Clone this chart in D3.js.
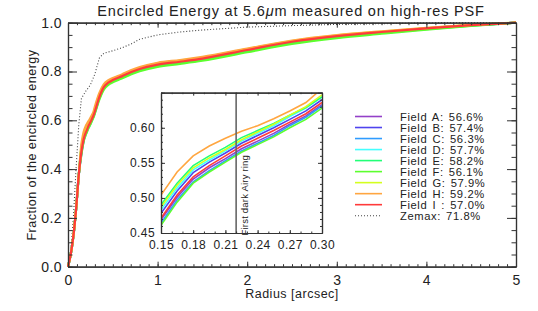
<!DOCTYPE html>
<html>
<head>
<meta charset="utf-8">
<script src="https://cdn.jsdelivr.net/npm/d3@7"></script>
<style>
body { margin: 0; background: #fff; }
text { font-family: "Liberation Sans", Arial, sans-serif; fill: #222; }
</style>
</head>
<body>
<script>
// ---------------------
// Data
// ---------------------

var fieldNames = ["Field A", "Field B", "Field C", "Field D", "Field E", "Field F", "Field G", "Field H", "Field I "];
var fieldEE = ["56.6%", "57.4%", "56.3%", "57.7%", "58.2%", "56.1%", "57.9%", "59.2%", "57.0%"];
var fieldColors = ["#9440c8", "#4f44ee", "#2f9cff", "#44ffff", "#22ff77", "#5cff2e", "#d4ff1e", "#ffa640", "#ff3a3a"];

// radius grid near the core, inside the inset, and for the halo
var coreR  = [0, 0.03, 0.06, 0.09, 0.12];
var coreEE = [0, 0.05, 0.125, 0.235, 0.375];
var insetR = [0.15, 0.165, 0.18, 0.195, 0.21, 0.225, 0.24, 0.255, 0.27, 0.285, 0.30];
var tailR  = [0.35, 0.40, 0.45, 0.50, 0.60, 0.70, 0.80, 1.0, 1.25, 1.5, 2.0, 2.5, 3.0, 3.5, 4.0, 4.5, 5.0];

var eeA = [0.469, 0.501, 0.527, 0.543, 0.556, 0.570, 0.581, 0.592, 0.605, 0.617, 0.633];
var eeB = [0.478, 0.510, 0.536, 0.551, 0.564, 0.578, 0.589, 0.600, 0.612, 0.624, 0.640];
var eeC = [0.464, 0.497, 0.523, 0.539, 0.553, 0.567, 0.578, 0.589, 0.603, 0.615, 0.631];
var eeD = [0.483, 0.514, 0.540, 0.554, 0.567, 0.581, 0.592, 0.603, 0.616, 0.628, 0.644];
var eeE = [0.490, 0.521, 0.546, 0.560, 0.572, 0.586, 0.596, 0.606, 0.618, 0.629, 0.644];
var eeF = [0.461, 0.494, 0.521, 0.537, 0.551, 0.565, 0.576, 0.587, 0.600, 0.612, 0.628];
var eeG = [0.487, 0.518, 0.543, 0.557, 0.569, 0.583, 0.594, 0.605, 0.618, 0.630, 0.647];
var eeH = [0.504, 0.537, 0.560, 0.574, 0.585, 0.595, 0.603, 0.613, 0.624, 0.636, 0.656];
var eeI = [0.471, 0.504, 0.530, 0.546, 0.560, 0.574, 0.585, 0.596, 0.608, 0.620, 0.636];

var tailA = [0.692, 0.733, 0.752, 0.763, 0.778, 0.795, 0.808, 0.826, 0.838, 0.851, 0.886, 0.920, 0.944, 0.961, 0.976, 0.990, 1.0];
var tailB = [0.700, 0.739, 0.756, 0.766, 0.781, 0.798, 0.811, 0.829, 0.841, 0.854, 0.889, 0.922, 0.945, 0.962, 0.977, 0.990, 1.0];
var tailC = [0.690, 0.731, 0.750, 0.761, 0.776, 0.793, 0.806, 0.824, 0.836, 0.849, 0.884, 0.918, 0.942, 0.960, 0.975, 0.989, 1.0];
var tailD = [0.702, 0.740, 0.757, 0.767, 0.782, 0.799, 0.812, 0.830, 0.842, 0.855, 0.889, 0.922, 0.945, 0.962, 0.977, 0.990, 1.0];
var tailE = [0.702, 0.736, 0.751, 0.760, 0.774, 0.791, 0.804, 0.822, 0.834, 0.847, 0.882, 0.916, 0.940, 0.958, 0.974, 0.988, 1.0];
var tailF = [0.685, 0.726, 0.745, 0.756, 0.771, 0.788, 0.801, 0.819, 0.831, 0.844, 0.879, 0.913, 0.937, 0.955, 0.972, 0.987, 1.0];
var tailG = [0.705, 0.743, 0.760, 0.770, 0.785, 0.802, 0.815, 0.833, 0.845, 0.857, 0.892, 0.925, 0.948, 0.964, 0.978, 0.991, 1.0];
var tailH = [0.712, 0.748, 0.764, 0.773, 0.788, 0.805, 0.818, 0.836, 0.847, 0.860, 0.894, 0.927, 0.949, 0.965, 0.979, 0.991, 1.0];
var tailI = [0.695, 0.736, 0.754, 0.765, 0.780, 0.797, 0.810, 0.828, 0.840, 0.853, 0.888, 0.922, 0.945, 0.962, 0.977, 0.990, 1.0];

var zemaxR  = [0, 0.03, 0.06, 0.09, 0.12, 0.15, 0.20, 0.25, 0.30, 0.35, 0.40, 0.50, 0.60, 0.70, 0.80, 1.0, 1.25, 1.5, 2.0, 2.5, 3.0, 3.5, 4.0, 5.0];
var zemaxEE = [0, 0.06, 0.20, 0.40, 0.58, 0.69, 0.72, 0.745, 0.79, 0.855, 0.875, 0.885, 0.897, 0.912, 0.932, 0.950, 0.962, 0.970, 0.982, 0.988, 0.993, 0.996, 0.999, 1.0];

var xTicks = [0, 1, 2, 3, 4, 5];
var yTicks = [0, 0.2, 0.4, 0.6, 0.8, 1.0];
var insetXTicks = [0.15, 0.18, 0.21, 0.24, 0.27, 0.30];
var insetYTicks = [0.45, 0.50, 0.55, 0.60, 0.65];
var airyRing = 0.22;

var insetSets = [eeA, eeB, eeC, eeD, eeE, eeF, eeG, eeH, eeI];
var tailSets  = [tailA, tailB, tailC, tailD, tailE, tailF, tailG, tailH, tailI];

// ---------------------
// Drawing
// ---------------------

var w = 538, h = 311;
var svg = d3.select("body").append("svg").attr("width", w).attr("height", h);

var x = d3.scaleLinear().domain([0, 5]).range([68, 516]);
var y = d3.scaleLinear().domain([0, 1]).range([266.7, 22.7]);

var axisColor = "#333";

function frame(g, xs, ys, xMajor, xMinor, yMajor, yMinor, xLen, yLen, fs, xpad, xfmt, yfmt) {
  var x0 = xs.range()[0], x1 = xs.range()[1], y0 = ys.range()[0], y1 = ys.range()[1];
  // bottom
  g.append("g").attr("transform", "translate(0," + y0 + ")")
    .call(d3.axisBottom(xs).tickValues(xMajor).tickSizeInner(-xLen).tickSizeOuter(0).tickPadding(xpad).tickFormat(xfmt))
    .call(styleAxis, fs);
  g.append("g").attr("transform", "translate(0," + y0 + ")")
    .call(d3.axisBottom(xs).tickValues(xMinor).tickSizeInner(-xLen / 2).tickSizeOuter(0).tickFormat(""))
    .call(styleAxis, fs);
  // top
  g.append("g").attr("transform", "translate(0," + y1 + ")")
    .call(d3.axisTop(xs).tickValues(xMajor).tickSizeInner(-xLen).tickSizeOuter(0).tickFormat(""))
    .call(styleAxis, fs);
  g.append("g").attr("transform", "translate(0," + y1 + ")")
    .call(d3.axisTop(xs).tickValues(xMinor).tickSizeInner(-xLen / 2).tickSizeOuter(0).tickFormat(""))
    .call(styleAxis, fs);
  // left
  g.append("g").attr("transform", "translate(" + x0 + ",0)")
    .call(d3.axisLeft(ys).tickValues(yMajor).tickSizeInner(-yLen).tickSizeOuter(0).tickPadding(6).tickFormat(yfmt))
    .call(styleAxis, fs);
  g.append("g").attr("transform", "translate(" + x0 + ",0)")
    .call(d3.axisLeft(ys).tickValues(yMinor).tickSizeInner(-yLen / 2).tickSizeOuter(0).tickFormat(""))
    .call(styleAxis, fs);
  // right
  g.append("g").attr("transform", "translate(" + x1 + ",0)")
    .call(d3.axisRight(ys).tickValues(yMajor).tickSizeInner(-yLen).tickSizeOuter(0).tickFormat(""))
    .call(styleAxis, fs);
  g.append("g").attr("transform", "translate(" + x1 + ",0)")
    .call(d3.axisRight(ys).tickValues(yMinor).tickSizeInner(-yLen / 2).tickSizeOuter(0).tickFormat(""))
    .call(styleAxis, fs);
}

function styleAxis(sel, fs) {
  sel.attr("font-size", fs).attr("font-family", "'Liberation Sans', Arial, sans-serif");
  sel.select(".domain").attr("stroke", axisColor).attr("stroke-width", 1.2);
  sel.selectAll(".tick line").attr("stroke", axisColor).attr("stroke-width", 1);
  sel.selectAll(".tick text").attr("fill", "#222").attr("letter-spacing", 0.4);
}

var main = svg.append("g");

// Zemax model
var line = d3.line().x(function(d) { return x(d[0]); }).y(function(d) { return y(d[1]); });
main.append("path")
  .datum(d3.zip(zemaxR, zemaxEE))
  .attr("d", line)
  .attr("fill", "none").attr("stroke", "#444").attr("stroke-width", 1.1)
  .attr("stroke-dasharray", "1,2");

// measured fields
var mainR = coreR.concat(insetR, tailR);
fieldNames.forEach(function(n, i) {
  var vals = coreEE.concat(insetSets[i], tailSets[i]);
  main.append("path")
    .datum(d3.zip(mainR, vals))
    .attr("d", line.curve(d3.curveMonotoneX))
    .attr("fill", "none").attr("stroke", fieldColors[i]).attr("stroke-width", 2.2)
    .attr("stroke-linejoin", "round");
});
line.curve(d3.curveLinear);

frame(main, x, y, xTicks, d3.range(0, 5.001, 0.1), yTicks, d3.range(0, 1.001, 0.05),
  5, 9, 14, 8, d3.format("d"), d3.format(".1f"));

// titles
svg.append("text").attr("x", 291).attr("y", 16).attr("text-anchor", "middle")
  .attr("font-size", 14.5).attr("letter-spacing", 0.8)
  .call(function(t) {
    t.append("tspan").text("Encircled Energy at 5.6");
    t.append("tspan").attr("font-style", "italic").text("\u03bc");
    t.append("tspan").text("m measured on high-res PSF");
  });

svg.append("text").attr("transform", "translate(36,145) rotate(-90)")
  .attr("text-anchor", "middle").attr("font-size", 12.5).attr("letter-spacing", 0.5)
  .text("Fraction of the encircled energy");

svg.append("text").attr("x", 292).attr("y", 298).attr("text-anchor", "middle")
  .attr("font-size", 12.5).attr("letter-spacing", 0.5)
  .text("Radius [arcsec]");

// ---------------------
// Inset
// ---------------------

var xi = d3.scaleLinear().domain([0.15, 0.30]).range([161, 322]);
var yi = d3.scaleLinear().domain([0.45, 0.65]).range([233, 92.7]);

var inset = svg.append("g");
inset.append("rect").attr("x", 161).attr("y", 92.7).attr("width", 161).attr("height", 140.3).attr("fill", "#fff");

svg.append("clipPath").attr("id", "insetclip")
  .append("rect").attr("x", 161).attr("y", 92.7).attr("width", 161).attr("height", 140.3);

var lineI = d3.line().x(function(d) { return xi(d[0]); }).y(function(d) { return yi(d[1]); });
var curves = inset.append("g").attr("clip-path", "url(#insetclip)");
fieldNames.forEach(function(n, i) {
  curves.append("path")
    .datum(d3.zip(insetR, insetSets[i]))
    .attr("d", lineI)
    .attr("fill", "none").attr("stroke", fieldColors[i]).attr("stroke-width", 1.6);
});

inset.append("line")
  .attr("x1", xi(airyRing)).attr("x2", xi(airyRing))
  .attr("y1", yi(0.45)).attr("y2", yi(0.65))
  .attr("stroke", "#666").attr("stroke-width", 1.6);

inset.append("text")
  .attr("transform", "translate(" + (xi(airyRing) + 12) + "," + yi(0.4465) + ") rotate(-90)")
  .attr("font-size", 9.5).attr("letter-spacing", 0.2)
  .text("First dark Airy ring");

frame(inset, xi, yi, insetXTicks, d3.range(0.15, 0.3001, 0.01), insetYTicks, d3.range(0.45, 0.6501, 0.01),
  3, 4, 12, 7, d3.format(".2f"), function(d) { return d > 0.64 ? "" : d3.format(".2f")(d); });

// ---------------------
// Legend
// ---------------------

var legend = svg.append("g");
var rowY = d3.scaleLinear().domain([0, 9]).range([116.5, 215.7]);
var labels = fieldNames.map(function(n, i) { return n + ": " + fieldEE[i]; }).concat(["Zemax: 71.8%"]);
var legColors = fieldColors.concat(["#444"]);

labels.forEach(function(l, i) {
  legend.append("line")
    .attr("x1", 355).attr("x2", 382).attr("y1", rowY(i)).attr("y2", rowY(i))
    .attr("stroke", legColors[i]).attr("stroke-width", i < 9 ? 1.6 : 1.1)
    .attr("stroke-dasharray", i < 9 ? null : "1,2");
  legend.append("text")
    .attr("x", 400).attr("y", rowY(i) + 4)
    .attr("font-size", 11.2).attr("letter-spacing", 0.6).attr("word-spacing", 1.5)
    .style("white-space", "pre")
    .text(l);
});
</script>
</body>
</html>
